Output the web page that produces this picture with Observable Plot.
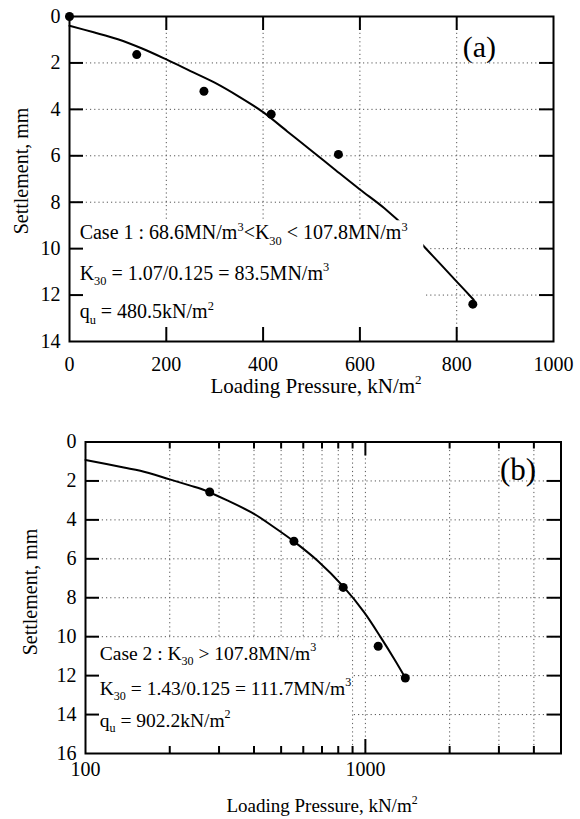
<!DOCTYPE html>
<html><head><meta charset="utf-8">
<script src="https://cdn.jsdelivr.net/npm/d3@7"></script>
<script src="https://cdn.jsdelivr.net/npm/@observablehq/plot@0.6"></script>
<style>
body{margin:0;background:#fff;}
#wrap{width:580px;height:819px;position:relative;overflow:hidden;}
svg{display:block;}
svg text{font-family:"Liberation Serif", "Times New Roman", serif !important;white-space:pre;}
svg g[aria-label*="tick label"] text, svg g[aria-label="x-axis"] text, svg g[aria-label="y-axis"] text{font-size:20px !important;}
</style></head>
<body><div id="wrap"></div>
<script>
// ---- Data: panel (a), linear axes ----
const aLoad = [0, 138.9, 277.8, 416.7, 555.6, 833.3];
const aSettle = [0, 1.64, 3.22, 4.21, 5.94, 12.39];
const aFitLoad = [0, 50, 100, 150, 200, 250, 300, 350, 400, 450, 500, 550, 600, 650, 700, 750, 800, 835];
const aFitSettle = [0.40, 0.68, 0.98, 1.38, 1.85, 2.35, 2.85, 3.45, 4.12, 4.95, 5.78, 6.62, 7.45, 8.25, 9.2, 10.3, 11.42, 12.2];
const aXTicks = [0, 200, 400, 600, 800, 1000];
const aYTicks = [0, 2, 4, 6, 8, 10, 12, 14];
const aNotes = ["Case 1 : 68.6MN/m^{3}<K_{30} < 107.8MN/m^{3}", "K_{30} = 1.07/0.125 = 83.5MN/m^{3}", "q_{u} = 480.5kN/m^{2}"];

// ---- Data: panel (b), log x axis ----
const bLoad = [277.8, 555.6, 833.3, 1111.1, 1388.9];
const bSettle = [2.57, 5.10, 7.47, 10.49, 12.12];
const bFitLoad = [100, 137, 157, 200, 237, 258, 321, 400, 472, 558, 675, 836, 992, 1138, 1271, 1390];
const bFitSettle = [0.92, 1.31, 1.48, 1.92, 2.24, 2.40, 3.0, 3.69, 4.38, 5.13, 6.10, 7.44, 8.76, 10.06, 11.17, 12.12];
const bXTicks = [100, 1000];
const bXMinor = [200, 300, 400, 500, 600, 700, 800, 900, 2000, 3000, 4000];
const bYTicks = [0, 2, 4, 6, 8, 10, 12, 14, 16];
const bNotes = ["Case 2 : K_{30} > 107.8MN/m^{3}", "K_{30} = 1.43/0.125 = 111.7MN/m^{3}", "q_{u} = 902.2kN/m^{2}"];

const xLabel = "Loading Pressure, kN/m^{2}";
const yLabel = "Settlement, mm";

const FONT = "Liberation Serif";
const wrap = document.getElementById("wrap");

function rich(sel, str, size) {
  const re = /(\^\{[^}]*\}|_\{[^}]*\})/;
  let cur = 0;
  str.split(re).filter(s => s).forEach(p => {
    let txt = p, off = 0, fs = size;
    if (p[0] === "^") { txt = p.slice(2, -1); off = -0.42 * size; fs = 0.62 * size; }
    else if (p[0] === "_") { txt = p.slice(2, -1); off = 0.28 * size; fs = 0.62 * size; }
    sel.append("tspan").attr("font-size", fs).attr("dy", off - cur).text(txt);
    cur = off;
  });
}
function fn(chart, name) {
  const s = chart.scale(name);
  if (s.apply) return s.apply;
  const d = s.type === "log" ? d3.scaleLog() : d3.scaleLinear();
  return d.domain(s.domain).range(s.range);
}

function panel(cfg) {
  const W = 580, H = cfg.height;
  const fh = H - cfg.mt - cfg.mb;
  const fw = W - cfg.ml - cfg.mr;
  const fit = cfg.fitX.map((x, i) => ({x, y: cfg.fitY[i]}));
  const pts = cfg.px.map((x, i) => ({x, y: cfg.py[i]}));
  const chart = Plot.plot({
    width: W, height: H,
    marginTop: cfg.mt, marginBottom: cfg.mb, marginLeft: cfg.ml, marginRight: cfg.mr,
    style: {fontFamily: FONT, fontSize: "20px", background: "white", color: "black"},
    x: {type: cfg.xType, domain: cfg.xDomain, ticks: cfg.xTicks, tickFormat: d3.format("d"), tickSize: 0, tickPadding: cfg.xPad, label: null},
    y: {domain: cfg.yDomain, reverse: true, ticks: cfg.yTicks, tickFormat: d3.format("d"), tickSize: 0, tickPadding: 9, label: null},
    marks: [
      Plot.ruleX(cfg.grid, {x: d => d, stroke: "#555", strokeWidth: 1, strokeDasharray: "1.2,3"}),
      Plot.ruleY(cfg.yTicks.slice(1, -1), {y: d => d, stroke: "#555", strokeWidth: 1, strokeDasharray: "1.2,3"}),
      Plot.line(fit, {x: "x", y: "y", curve: "catmull-rom", stroke: "black", strokeWidth: 2}),
      Plot.rect([cfg.box], {x1: d => d.x1, x2: d => d.x2, y1: d => d.y1, y2: d => d.y2, fill: "white"}),
      Plot.ruleX(cfg.major, {x: d => d, stroke: "black", strokeWidth: 2, insetBottom: fh - 14}),
      Plot.ruleX(cfg.major, {x: d => d, stroke: "black", strokeWidth: 2, insetTop: fh - 14}),
      Plot.ruleX(cfg.minor, {x: d => d, stroke: "black", strokeWidth: 2, insetBottom: fh - 7}),
      Plot.ruleX(cfg.minor, {x: d => d, stroke: "black", strokeWidth: 2, insetTop: fh - 7}),
      Plot.ruleY(cfg.yTicks.slice(1, -1), {y: d => d, stroke: "black", strokeWidth: 2, insetRight: fw - 14}),
      Plot.ruleY(cfg.yTicks.slice(1, -1), {y: d => d, stroke: "black", strokeWidth: 2, insetLeft: fw - 14}),
      Plot.frame({stroke: "black", strokeWidth: 2}),
      Plot.dot(pts, {x: "x", y: "y", r: 4.5, fill: "black", stroke: "none"})
    ]
  });
  const sx = fn(chart, "x"), sy = fn(chart, "y");
  const svg = d3.select(chart);
  const g = svg.append("g").attr("fill", "black").attr("text-anchor", "start");
  cfg.notes.forEach((t, i) => {
    const tx = g.append("text").attr("x", sx(cfg.noteX)).attr("y", sy(cfg.noteY[i]))
      .attr("text-anchor", "start").attr("font-size", cfg.noteSize);
    rich(tx, t, cfg.noteSize);
  });
  g.append("text").attr("x", sx(cfg.tag.x)).attr("y", sy(cfg.tag.y)).attr("text-anchor", "middle")
    .attr("font-size", cfg.tag.size).text(cfg.tag.text);
  const xl = g.append("text").attr("x", cfg.xl.x).attr("y", cfg.xl.y).attr("text-anchor", "middle").attr("font-size", cfg.xl.size);
  rich(xl, xLabel, cfg.xl.size);
  g.append("text").attr("transform", `translate(${cfg.yl.x},${cfg.yl.y}) rotate(-90)`).attr("text-anchor", "middle")
    .attr("font-size", cfg.yl.size).text(yLabel);
  chart.style.position = "absolute";
  chart.style.left = "0px";
  chart.style.top = cfg.top + "px";
  wrap.appendChild(chart);
}

panel({
  top: 0, height: 420, mt: 16, mb: 79, ml: 69, mr: 27,
  xType: "linear", xDomain: [0, 1000], yDomain: [0, 14],
  xTicks: aXTicks, yTicks: aYTicks, xPad: 15,
  grid: [200, 400, 600, 800], major: [200, 400, 600, 800], minor: [],
  fitX: aFitLoad, fitY: aFitSettle, px: aLoad, py: aSettle,
  box: {x1: 2, x2: 732, y1: 8.8, y2: 13.9},
  notes: aNotes, noteX: 22, noteY: [9.61, 11.36, 13.03], noteSize: 20,
  tag: {text: "(a)", x: 848, y: 1.77, size: 30},
  xl: {x: 316, y: 393, size: 21},
  yl: {x: 28, y: 171, size: 20}
});

panel({
  top: 420, height: 399, mt: 21.5, mb: 66, ml: 85, mr: 19.5,
  xType: "log", xDomain: [100, 5000], yDomain: [0, 16],
  xTicks: bXTicks, yTicks: bYTicks, xPad: 8,
  grid: [200, 300, 400, 500, 600, 700, 800, 900, 1000, 2000, 3000, 4000], major: [1000], minor: bXMinor,
  fitX: bFitLoad, fitY: bFitSettle, px: bLoad, py: bSettle,
  box: {x1: 101, x2: 900, y1: 10.15, y2: 15.9},
  notes: bNotes, noteX: 112.9, noteY: [11.2, 13.0, 14.64], noteSize: 19.5,
  tag: {text: "(b)", x: 3525, y: 1.97, size: 31},
  xl: {x: 322, y: 392, size: 19},
  yl: {x: 37, y: 172, size: 20}
});
</script></body></html>
